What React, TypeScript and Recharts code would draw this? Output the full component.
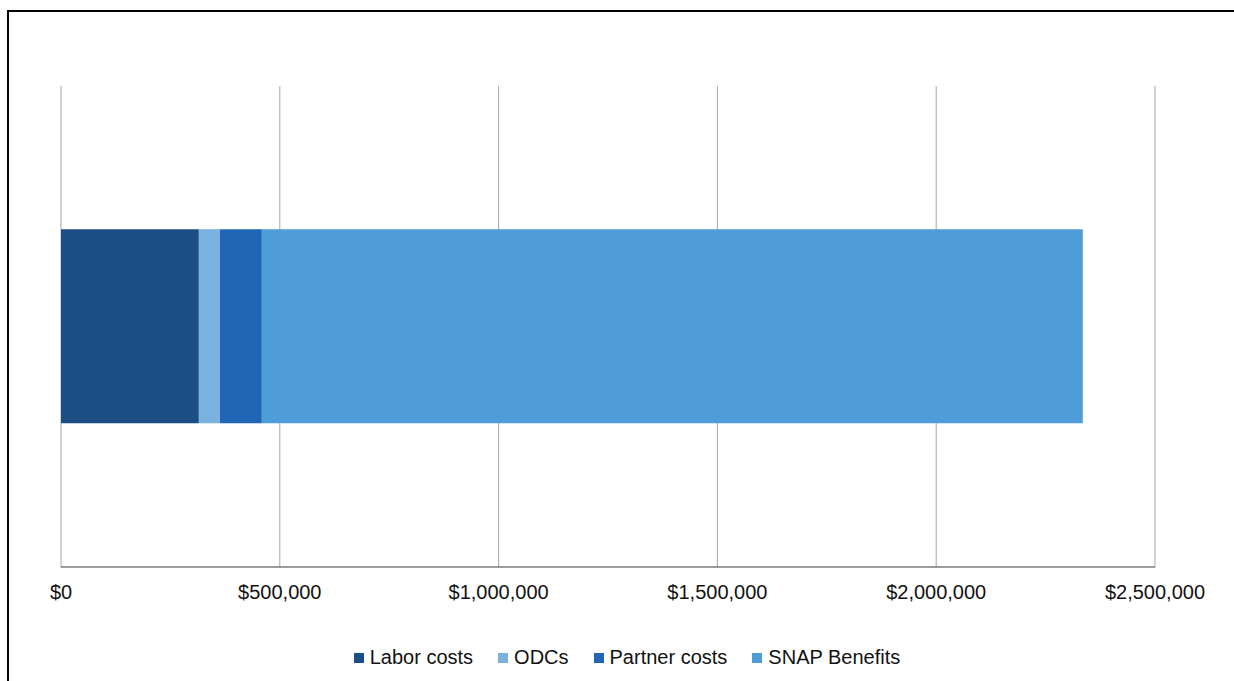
import { BarChart, Bar, XAxis, YAxis, CartesianGrid, Legend } from "recharts";

// One stacked bar: budget by cost type
const categories = ["Budget"];
const laborCosts = [315000];
const odcs = [48000];
const partnerCosts = [96000];
const snapBenefits = [1876000];
const xTicks = [0, 500000, 1000000, 1500000, 2000000, 2500000];

const seriesNames = ["Labor costs", "ODCs", "Partner costs", "SNAP Benefits"];
const seriesColors = ["#1c4e86", "#79b1df", "#2166b4", "#4f9dd8"];

const data = categories.map((c, i) => ({
  name: c,
  labor: laborCosts[i],
  odcs: odcs[i],
  partner: partnerCosts[i],
  snap: snapBenefits[i],
}));

const keys = ["labor", "odcs", "partner", "snap"];

const fmt = (v: number) => "$" + v.toLocaleString("en-US");

const FONT = "'Liberation Sans', Arial, sans-serif";

// legend drawn with small squares like the spreadsheet export
function LegendBox(props: any) {
  const payload = props.payload || [];
  return (
    <div
      style={{
        display: "flex",
        justifyContent: "center",
        fontFamily: FONT,
        fontSize: 20,
        color: "#111",
        paddingLeft: 20,
      }}
    >
      {payload.map((p: any, i: number) => (
        <div key={i} style={{ display: "flex", alignItems: "center", marginRight: i < payload.length - 1 ? 25 : 0 }}>
          <span style={{ display: "inline-block", width: 10, height: 10, background: p.color, marginRight: 6 }} />
          <span>{p.value}</span>
        </div>
      ))}
    </div>
  );
}

export default function App() {
  return (
    <div style={{ position: "absolute", left: 0, top: 0, width: 1234, height: 681, background: "#fff" }}>
      {/* frame lines at top and left */}
      <div style={{ position: "absolute", left: 7, top: 10, right: 0, height: 2, background: "#000" }} />
      <div style={{ position: "absolute", left: 7, top: 10, bottom: 0, width: 2, background: "#000" }} />
      <div style={{ position: "absolute", left: 0, top: 0 }}>
        <BarChart
          width={1234}
          height={681}
          data={data}
          layout="vertical"
          barCategoryGap="29.8%"
          margin={{ top: 86, right: 79, bottom: 61, left: 61 }}
        >
          <CartesianGrid horizontal={false} stroke="#a6a6a6" />
          <XAxis
            type="number"
            domain={[0, 2500000]}
            ticks={xTicks}
            tickFormatter={fmt}
            axisLine={{ stroke: "#3a3a3a" }}
            tickLine={false}
            tickMargin={12}
            height={30}
            interval={0}
            tick={{ fontFamily: FONT, fontSize: 20, fill: "#111" }}
          />
          <YAxis
            type="category"
            dataKey="name"
            width={0}
            tick={false}
            tickLine={false}
            axisLine={{ stroke: "#5a5a5a" }}
          />
          <Legend
            verticalAlign="bottom"
            content={<LegendBox />}
            wrapperStyle={{ top: 646, bottom: "auto", left: 0, width: 1234 }}
          />
          {keys.map((k, i) => (
            <Bar
              key={k}
              dataKey={k}
              name={seriesNames[i]}
              stackId="a"
              fill={seriesColors[i]}
              isAnimationActive={false}
            />
          ))}
        </BarChart>
      </div>
    </div>
  );
}
